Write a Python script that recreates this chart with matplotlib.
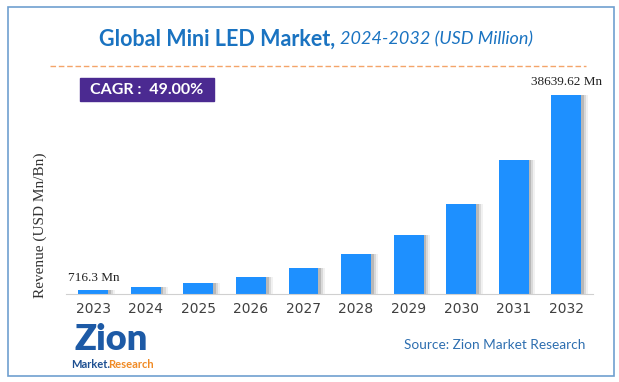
import matplotlib.pyplot as plt
from matplotlib.patches import Rectangle

# values (USD Mn)
years = ["2023", "2024", "2025", "2026", "2027", "2028", "2029", "2030", "2031", "2032"]
revenue = [716.3, 1360, 2190, 3300, 5050, 7710, 11520, 17420, 25960, 38639.62]
first_label = "716.3 Mn"
last_label = "38639.62 Mn"
cagr_text = "CAGR :  49.00%"

W, H = 619, 382
fig = plt.figure(figsize=(W / 100, H / 100), dpi=100)

# outer frame
fig.patches.append(Rectangle((7.5 / W, 6 / H), 606 / W, 369 / H, transform=fig.transFigure,
                             fill=False, edgecolor="#6f9fcf", linewidth=1.2))

ax = fig.add_axes([66 / W, 1 - 294 / H, 527 / W, 199 / H])
x = list(range(len(years)))
# soft shadow to the right of each bar
for dx, a in [(0.05, 0.25), (0.09, 0.15), (0.13, 0.08)]:
    ax.bar([i + dx for i in x], revenue, width=0.57, color="#555555", alpha=a, zorder=1)
ax.bar(x, revenue, width=0.57, color="#1e90ff", zorder=2)

ax.set_xlim(-0.52, 9.51)
ax.set_ylim(0, revenue[-1])
ax.set_xticks(x)
ax.set_xticklabels(years, fontsize=10, color="#404040", fontfamily="DejaVu Sans")
ax.tick_params(axis="x", length=0, pad=6)
ax.set_yticks([])
for s in ["top", "right", "left"]:
    ax.spines[s].set_visible(False)
ax.spines["bottom"].set_color("#d0d0d0")

ax.text(0, revenue[0] + 1300, first_label, ha="center", va="bottom", fontsize=9.5,
        fontfamily="Liberation Serif", color="#222222")
ax.text(9, revenue[-1] + 1300, last_label, ha="center", va="bottom", fontsize=9.5,
        fontfamily="Liberation Serif", color="#222222", clip_on=False)

fig.text(40 / W, 1 - 225 / H, "Revenue (USD Mn/Bn)", rotation=90, ha="center", va="center",
         fontsize=11, fontfamily="Liberation Serif", color="#333333")

# title
fig.text(340 / W, 1 - 39 / H, "Global Mini LED Market, ", ha="right", va="center",
         fontsize=15.5, fontweight="bold", color="#1a73c1", fontfamily="Lato")
fig.text(340 / W, 1 - 39 / H, "2024-2032 (USD Million)", ha="left", va="center",
         fontsize=13, style="italic", color="#1a73c1", fontfamily="Lato")

# dashed separator
fig.add_artist(plt.Line2D([50 / W, 586 / W], [1 - 66 / H, 1 - 66 / H], transform=fig.transFigure,
                          color="#f4a46a", linestyle=(0, (4, 2)), linewidth=1))

# CAGR box
fig.patches.append(Rectangle((80 / W, 1 - 100.5 / H), 134 / W, 22.5 / H, transform=fig.transFigure,
                             color="#4b2a91"))
fig.text(147 / W, 1 - 89.5 / H, cagr_text, ha="center", va="center", fontsize=11.5,
         fontweight="bold", color="white", fontfamily="Lato")

# source
fig.text(495 / W, 1 - 345 / H, "Source: Zion Market Research", ha="center", va="center",
         fontsize=9.8, color="#2e6fb0", fontfamily="Lato")

# logo approximation
fig.text(111 / W, 1 - 339 / H, "Zion", ha="center", va="center", fontsize=26,
         fontweight="heavy", color="#1d5aa6", fontfamily="Lato")
fig.text(71 / W, 1 - 364 / H, "Market.", ha="left", va="center", fontsize=8,
         fontweight="bold", color="#1d4f91", fontfamily="Lato")
fig.text(108 / W, 1 - 364 / H, "Research", ha="left", va="center", fontsize=8,
         fontweight="bold", color="#f08a24", fontfamily="Lato")

fig.savefig("out.png", dpi=100)
